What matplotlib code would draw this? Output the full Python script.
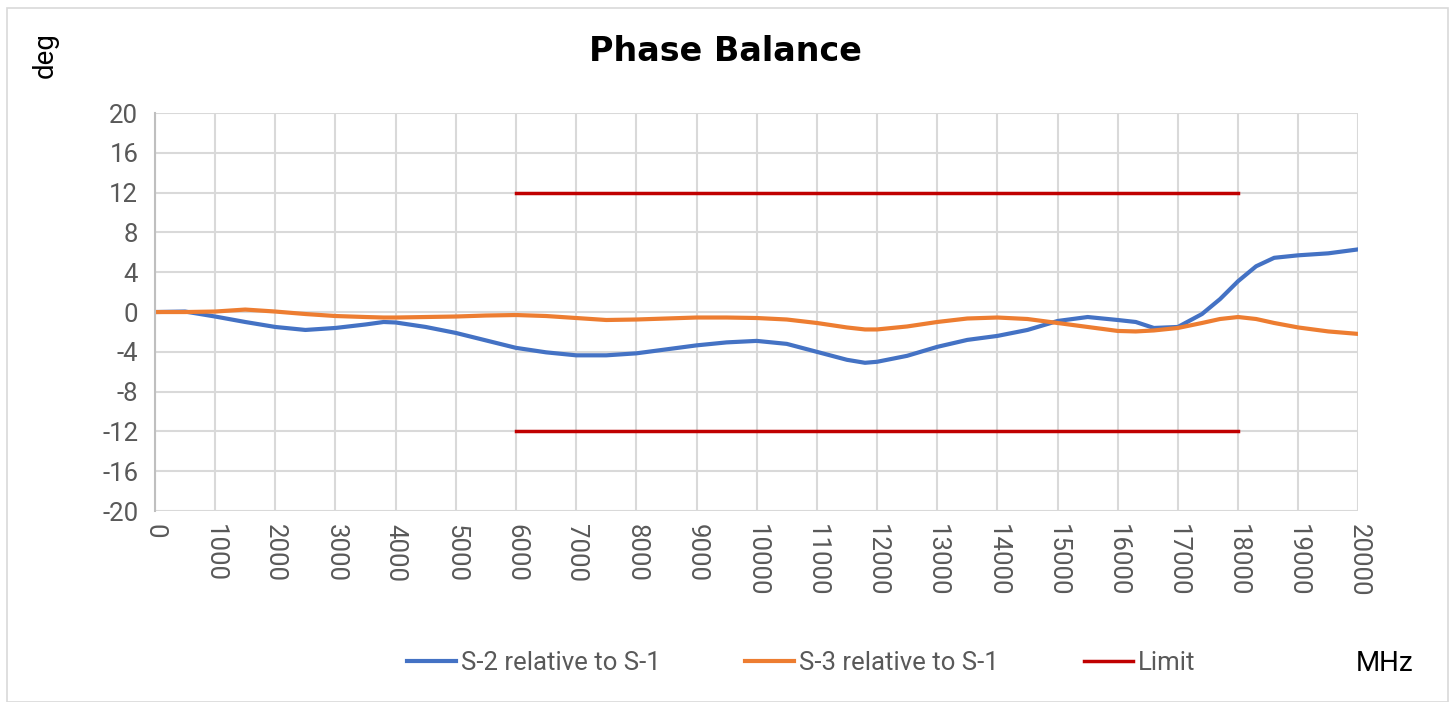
import numpy as np
import matplotlib
matplotlib.use("Agg")
import matplotlib.pyplot as plt
from matplotlib.patches import Rectangle

# frequency grid (MHz)
freq = [0, 500, 1000, 1500, 2000, 2500, 3000, 3500, 3800, 4000, 4500, 5000, 5500,
        6000, 6500, 7000, 7500, 8000, 8500, 9000, 9500, 10000, 10500, 11000, 11500,
        11800, 12000, 12500, 13000, 13500, 14000, 14500, 15000, 15500, 16000, 16300,
        16600, 17000, 17400, 17700, 18000, 18300, 18600, 19000, 19500, 20000]

s2 = [0.0, 0.05, -0.45, -1.0, -1.5, -1.8, -1.6, -1.25, -1.0, -1.05, -1.5, -2.1, -2.85,
      -3.6, -4.05, -4.35, -4.35, -4.15, -3.75, -3.35, -3.05, -2.9, -3.2, -4.0, -4.8,
      -5.1, -5.0, -4.4, -3.5, -2.8, -2.4, -1.8, -0.9, -0.5, -0.8, -1.0,
      -1.6, -1.5, -0.2, 1.3, 3.1, 4.6, 5.45, 5.7, 5.9, 6.3]

s3 = [0.0, 0.0, 0.05, 0.25, 0.05, -0.2, -0.4, -0.5, -0.55, -0.55, -0.5, -0.45, -0.35,
      -0.3, -0.4, -0.6, -0.8, -0.75, -0.65, -0.55, -0.55, -0.6, -0.75, -1.1, -1.55,
      -1.75, -1.75, -1.45, -1.0, -0.65, -0.55, -0.7, -1.1, -1.5, -1.9, -1.95,
      -1.85, -1.6, -1.1, -0.7, -0.5, -0.7, -1.1, -1.55, -1.95, -2.2]

limit_freq = [6000, 18000]
limit_hi = [12, 12]
limit_lo = [-12, -12]

plt.rcParams['font.family'] = ['Roboto', 'DejaVu Sans']
plt.rcParams['axes.unicode_minus'] = False

fig = plt.figure(figsize=(14.51, 7.02), dpi=100)
ax = fig.add_axes([0.1068, 0.272, 0.8294, 0.567])

ax.plot(freq, s2, color='#4472c4', lw=3.0, label='S-2 relative to S-1')
ax.plot(freq, s3, color='#ed7d31', lw=3.0, label='S-3 relative to S-1')
ax.plot(limit_freq, limit_hi, color='#c00000', lw=2.5, label='Limit')
ax.plot(limit_freq, limit_lo, color='#c00000', lw=2.5)

ax.set_xlim(0, 20000)
ax.set_ylim(-20, 20)
ax.set_xticks(np.arange(0, 20001, 1000))
ax.set_yticks(np.arange(-20, 21, 4))
ax.tick_params(axis='x', labelrotation=-90, length=0, pad=9, labelsize=18.5, colors='#595959')
ax.tick_params(axis='y', length=0, pad=12, labelsize=18.5, colors='#595959')
ax.grid(True, color='#d9d9d9', lw=1.5)
ax.set_axisbelow(True)
for side in ['top', 'right', 'bottom']:
    ax.spines[side].set_visible(False)
ax.spines['left'].set_color('#bfbfbf')
ax.spines['left'].set_linewidth(1.5)

fig.text(0.5, 0.926, 'Phase Balance', ha='center', va='center',
         fontsize=24, fontweight='bold', color='black', family='DejaVu Sans')
fig.text(0.031, 0.922, 'deg', rotation=90, ha='center', va='center', fontsize=20)
fig.text(0.954, 0.055, 'MHz', ha='center', va='center', fontsize=20)

fig.legend(loc='center', bbox_to_anchor=(0.552, 0.055), ncol=3, frameon=False,
           fontsize=18.5, handlelength=1.9, handletextpad=0.2, columnspacing=3.3,
           labelcolor='#595959')

fig.patches.append(Rectangle((0.005, 0.0), 0.993, 0.988, transform=fig.transFigure,
                             fill=False, edgecolor='#d9d9d9', lw=1.2))

fig.savefig('out.png', dpi=100)
